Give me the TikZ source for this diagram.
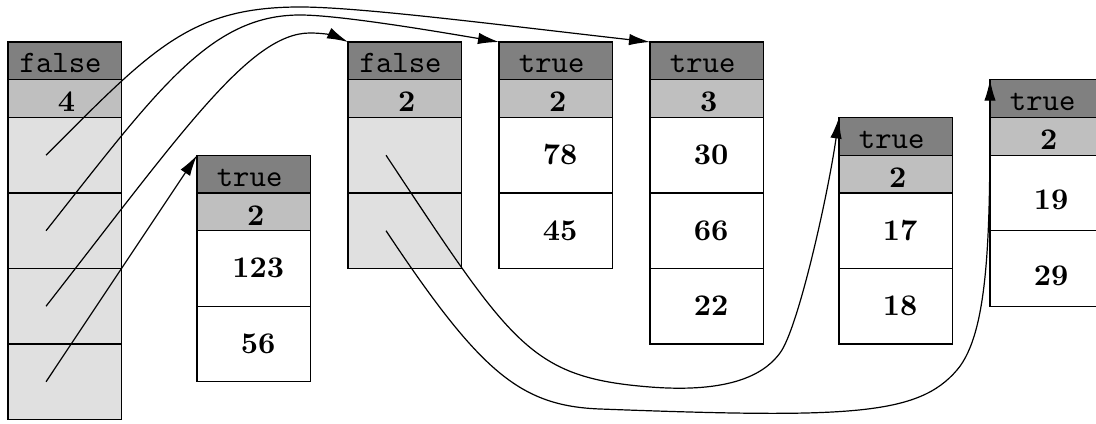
\documentclass[tikz,border=0pt]{standalone}
\usetikzlibrary{arrows.meta,calc}
\begin{document}
\begin{tikzpicture}[x=0.33333pt,y=-0.33333pt]
\tikzset{
 row/.style={draw=black, line width=0.4pt, inner sep=0pt, outer sep=0pt, anchor=north west, minimum width=37.75pt},
 hdr/.style={row, fill=black!50, minimum height=12.583pt, text height=8pt, text depth=0pt, font=\fontsize{10.4}{12}\ttfamily},
 cnt/.style={row, fill=black!25, minimum height=12.583pt, text height=8.9pt, text depth=0pt, font=\bfseries},
 ptr/.style={row, fill=black!12, minimum height=25.167pt},
 val/.style={row, fill=white, minimum height=25.167pt, text height=6.27pt, text depth=0pt, font=\bfseries},
 valb/.style={val, text height=11.3pt},
 link/.style={line width=0.4pt, -{Latex[length=7pt,width=3.8pt]}},
}
\useasboundingbox (0,0) rectangle (1096,424);
\clip (0,0) rectangle (1096,424);
% box 1
\node[hdr] (b1h) at (8,42) {false\kern2.67pt};
\node[cnt] (b1n) at (b1h.south west) {\kern1.33pt 4};
\node[ptr] (b1c1) at (b1n.south west) {};
\node[ptr] (b1c2) at (b1c1.south west) {};
\node[ptr] (b1c3) at (b1c2.south west) {};
\node[ptr] (b1c4) at (b1c3.south west) {};
% box 2
\node[hdr] (b2h) at (197,155.25) {true\kern2.67pt};
\node[cnt] (b2n) at (b2h.south west) {\kern1.33pt 2};
\node[val] (b2c1) at (b2n.south west) {\kern3pt 123};
\node[val] (b2c2) at (b2c1.south west) {\kern3pt 56};
% box 3
\node[hdr] (b3h) at (348,42) {false\kern2.67pt};
\node[cnt] (b3n) at (b3h.south west) {\kern1.33pt 2};
\node[ptr] (b3c1) at (b3n.south west) {};
\node[ptr] (b3c2) at (b3c1.south west) {};
% box 4
\node[hdr] (b4h) at (499,42) {true\kern2.67pt};
\node[cnt] (b4n) at (b4h.south west) {\kern1.33pt 2};
\node[val] (b4c1) at (b4n.south west) {\kern3pt 78};
\node[val] (b4c2) at (b4c1.south west) {\kern3pt 45};
% box 5
\node[hdr] (b5h) at (650,42) {true\kern2.67pt};
\node[cnt] (b5n) at (b5h.south west) {\kern1.33pt 3};
\node[val] (b5c1) at (b5n.south west) {\kern3pt 30};
\node[val] (b5c2) at (b5c1.south west) {\kern3pt 66};
\node[val] (b5c3) at (b5c2.south west) {\kern3pt 22};
% box 6
\node[hdr] (b6h) at (839,117.5) {true\kern2.67pt};
\node[cnt] (b6n) at (b6h.south west) {\kern1.33pt 2};
\node[val] (b6c1) at (b6n.south west) {\kern3pt 17};
\node[val] (b6c2) at (b6c1.south west) {\kern3pt 18};
% box 7
\node[hdr] (b7h) at (990,79.75) {true\kern2.67pt};
\node[cnt] (b7n) at (b7h.south west) {\kern1.33pt 2};
\node[valb] (b7c1) at (b7n.south west) {\kern3pt 19};
\node[valb] (b7c2) at (b7c1.south west) {\kern3pt 29};
% pointer origins
\coordinate (p11) at ($(b1c1.center)+(-18.6,0)$);
\coordinate (p12) at ($(b1c2.center)+(-18.6,0)$);
\coordinate (p13) at ($(b1c3.center)+(-18.6,0)$);
\coordinate (p14) at ($(b1c4.center)+(-18.6,0)$);
\coordinate (p31) at ($(b3c1.center)+(-18.6,0)$);
\coordinate (p32) at ($(b3c2.center)+(-18.6,0)$);
% links
\draw[link] (p11) .. controls (152,49) and (190,7) .. (300,7)
  .. controls (360,7) and (500,25) .. (b5h.north west);
\draw[link] (p12) .. controls (157.6,89.6) and (210,15) .. (300,15)
  .. controls (340,15) and (440,32) .. (b4h.north west);
\draw[link] (p13) .. controls (182,132) and (250,33) .. (310,33)
  .. controls (325,33) and (335,36) .. (b3h.north west);
\draw[link] (p14) -- (b2h.north west);
\draw[link] (p31) .. controls (512.5,346) and (530,377.4) .. (650,387)
  .. controls (740,394) and (768,369) .. (780,353)
  .. controls (798,329) and (827.8,196) .. (b6h.north west);
\draw[link] (p32) .. controls (480,372) and (520,406) .. (600,409)
  .. controls (850,418.4) and (918,415.6) .. (957,370)
  .. controls (989.5,332) and (990,230) .. (b7h.north west);
\end{tikzpicture}
\end{document}
